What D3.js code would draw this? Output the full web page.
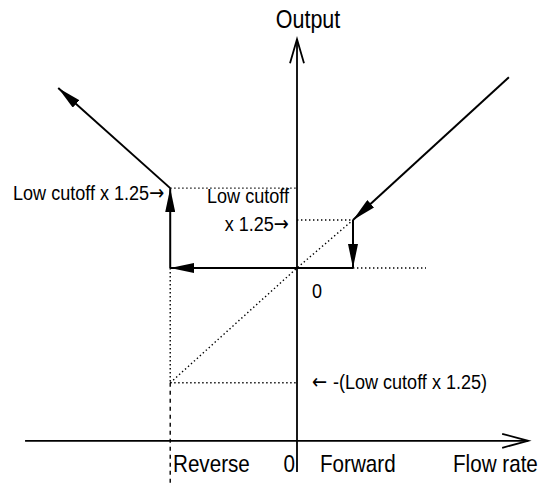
<!DOCTYPE html>
<html>
<head>
<meta charset="utf-8">
<script src="https://cdn.jsdelivr.net/npm/d3@7"></script>
<style>
  html, body { margin: 0; padding: 0; background: #fff; }
  svg { display: block; }
  text { font-family: "Liberation Sans", Arial, sans-serif; fill: #000; }
  tspan.arrow { font-family: "DejaVu Sans", sans-serif; }
</style>
</head>
<body>
<svg id="chart" width="550" height="484"></svg>
<script>
// Flow (x) and output (y) in schematic units; 1.25 = low cutoff x 1.25 on the forward side.
const forwardCutoff = 1.25;
const reverseCutoff = -2.83;
const reverseOutputHigh = 2.08;
const reverseOutputLow = -2.99;

// Response traces, each drawn with an arrowhead at its end.
const forwardArrows = [
  [[4.73, 4.97], [forwardCutoff, forwardCutoff]],
  [[forwardCutoff, forwardCutoff], [forwardCutoff, 0]]
];
const reverseArrows = [
  [[0, 0], [reverseCutoff, 0]],
  [[reverseCutoff, 0], [reverseCutoff, reverseOutputHigh]],
  [[reverseCutoff, reverseOutputHigh], [-5.33, 4.69]]
];
const plainLines = [
  [[forwardCutoff, 0], [0, 0]]
];

// Dotted guide lines.
const dottedGuides = [
  [[reverseCutoff, reverseOutputHigh], [0, reverseOutputHigh]],
  [[0, forwardCutoff], [forwardCutoff, forwardCutoff]],
  [[forwardCutoff, 0], [2.88, 0]],
  [[reverseCutoff, reverseOutputLow], [0, reverseOutputLow]],
  [[reverseCutoff, reverseOutputLow], [0, 0], [forwardCutoff, forwardCutoff]],
  [[reverseCutoff, 0], [reverseCutoff, reverseOutputLow]]
];
const dashedGuides = [
  [[reverseCutoff, reverseOutputLow], [reverseCutoff, -5.7]]
];

// Axis extents.
const flowAxis = [-6.07, 5.16];
const outputAxis = [-5.31, 5.96];

const x = d3.scaleLinear().domain([0, forwardCutoff]).range([297, 353]);
const y = d3.scaleLinear().domain([0, forwardCutoff]).range([268, 220]);
const axisY = -4.5;   // output level where the flow axis sits

const svg = d3.select("#chart");
const line = d3.line().x(d => x(d[0])).y(d => y(d[1]));

// Filled arrowhead marker.
svg.append("defs").append("marker")
  .attr("id", "head")
  .attr("markerUnits", "userSpaceOnUse")
  .attr("viewBox", "0 -5 24 10")
  .attr("refX", 24).attr("refY", 0)
  .attr("markerWidth", 24).attr("markerHeight", 10)
  .attr("orient", "auto")
  .append("path")
  .attr("d", "M0,-5L24,0L0,5Z")
  .attr("fill", "#000");

// Axes
const axes = svg.append("g").attr("stroke", "#000").attr("fill", "none").attr("stroke-width", 1.8);
axes.append("path").attr("d", line([[flowAxis[0], axisY], [flowAxis[1], axisY]]));
axes.append("path").attr("d", line([[0, outputAxis[0]], [0, outputAxis[1]]]));
// open arrowheads
const fx = x(flowAxis[1]), fy = y(axisY);
axes.append("path").attr("d", `M${fx - 26},${fy - 7}L${fx},${fy}L${fx - 26},${fy + 7}`);
const ox = x(0), oy = y(outputAxis[1]);
axes.append("path").attr("d", `M${ox - 7},${oy + 24}L${ox},${oy}L${ox + 7},${oy + 24}`);

// Guides
svg.append("g").selectAll("path").data(dottedGuides).join("path")
  .attr("d", line).attr("fill", "none").attr("stroke", "#000")
  .attr("stroke-width", 1.4).attr("stroke-dasharray", "1.4 2.6");
svg.append("g").selectAll("path").data(dashedGuides).join("path")
  .attr("d", line).attr("fill", "none").attr("stroke", "#000")
  .attr("stroke-width", 1.4).attr("stroke-dasharray", "4 4");

// Response
svg.append("g").selectAll("path").data(plainLines).join("path")
  .attr("d", line).attr("fill", "none").attr("stroke", "#000").attr("stroke-width", 2);
svg.append("g").selectAll("path").data(forwardArrows.concat(reverseArrows)).join("path")
  .attr("d", line).attr("fill", "none").attr("stroke", "#000").attr("stroke-width", 2)
  .attr("marker-end", "url(#head)");

// Labels: plain text parts plus an optional arrow glyph before/after.
const labels = [
  { t: "Output", px: 308, py: 28, size: 25, anchor: "middle" },
  { t: "Low cutoff x 1.25", after: "\u2192", px: 13, py: 200, size: 21, anchor: "start" },
  { t: "Low cutoff", px: 289, py: 203, size: 21, anchor: "end" },
  { t: "x 1.25", after: "\u2192", px: 289, py: 231, size: 21, anchor: "end" },
  { t: "0", px: 312, py: 298, size: 21, anchor: "start" },
  { before: "\u2190 ", t: "-(Low cutoff x 1.25)", px: 312, py: 389, size: 21, anchor: "start" },
  { t: "Reverse", px: 173, py: 472, size: 24, anchor: "start" },
  { t: "0", px: 295, py: 472, size: 24, anchor: "end" },
  { t: "Forward", px: 320, py: 472, size: 24, anchor: "start" },
  { t: "Flow rate", px: 453, py: 472, size: 24, anchor: "start" }
];
const txt = svg.append("g").selectAll("text").data(labels).join("text")
  .attr("transform", d => `translate(${d.px},${d.py}) scale(0.86,1)`)
  .attr("font-size", d => d.size)
  .attr("text-anchor", d => d.anchor);
txt.each(function (d) {
  const el = d3.select(this);
  if (d.before) el.append("tspan").attr("class", "arrow").text(d.before);
  el.append("tspan").text(d.t);
  if (d.after) el.append("tspan").attr("class", "arrow").text(d.after);
});
</script>
</body>
</html>
